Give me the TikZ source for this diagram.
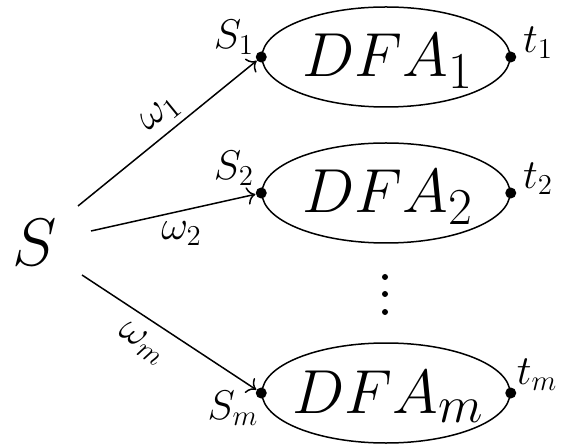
\documentclass[tikz,border=0pt]{standalone}
\usepackage{graphicx}
\usetikzlibrary{shapes.geometric,arrows.meta}
\begin{document}
\begin{tikzpicture}[x=0.5pt,y=-0.5pt,
  dfa/.style={draw, ellipse, line width=0.75pt, minimum width=124pt, minimum height=50pt, inner sep=0pt},
  pt/.style={circle, fill, inner sep=0pt, minimum size=5.5pt},
  lab/.style={font=\huge, inner sep=1pt},
  big/.style={font=\Huge, anchor=base, inner sep=0pt},
  conn/.style={-{To[scale=1.3]}, line width=0.75pt},
  wl/.style={font=\huge, inner sep=5pt}]
\useasboundingbox (0,0) rectangle (561,448);
\node[dfa] (E1) at (386,57) {};
\node[dfa] (E2) at (386,193) {};
\node[dfa] (Em) at (386,393) {};
\node[big] (T1) at (388,77) {\scalebox{1.25}{$DFA_1$}};
\node[big] (T2) at (388,213) {\scalebox{1.25}{$DFA_2$}};
\node[big] (Tm) at (388,413) {\scalebox{1.25}{$DFA_m$}};
\node[pt] (s1) at (E1.west) {};
\node[pt] (f1) at (E1.east) {};
\node[pt] (s2) at (E2.west) {};
\node[pt] (f2) at (E2.east) {};
\node[pt] (sm) at (Em.west) {};
\node[pt] (fm) at (Em.east) {};
\node[lab] (ls1) at (234,37) {$S_1$};
\node[lab] (lt1) at (538,43) {$t_1$};
\node[lab] (ls2) at (234,168) {$S_2$};
\node[lab] (lt2) at (538,179) {$t_2$};
\node[lab] (lsm) at (233,408) {$S_m$};
\node[lab] (ltm) at (537,375) {$t_m$};
\node[font=\Huge, inner sep=0pt] (S) at (35,243) {\scalebox{1.35}{$S$}};
\coordinate (a1) at (78,206);
\coordinate (a2) at (91,231);
\coordinate (am) at (82,275);
\draw[conn] (a1) -- node[sloped, above, wl, pos=0.53, inner sep=3pt] {$\omega_1$} (s1);
\draw[conn] (a2) -- node[below, wl, pos=0.55] {$\omega_2$} (s2);
\draw[conn] (am) -- node[sloped, below, wl, pos=0.42, inner sep=6pt] {$\omega_m$} (sm);
\fill (385,277) circle (1.5pt);
\fill (385,294) circle (1.5pt);
\fill (385,312) circle (1.5pt);
\end{tikzpicture}
\end{document}
